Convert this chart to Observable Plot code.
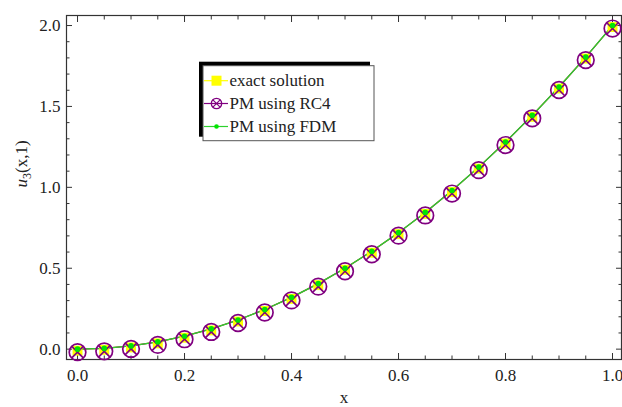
<!DOCTYPE html>
<html>
<head>
<meta charset="utf-8">
<script src="https://cdn.jsdelivr.net/npm/d3@7"></script>
<script src="https://cdn.jsdelivr.net/npm/@observablehq/plot@0.6"></script>
<style>
  body { margin: 0; background: #fff; }
  #wrap { position: relative; width: 622px; height: 407px; overflow: hidden; }
  #legend { position: absolute; left: 0; top: 0; pointer-events: none; }
  #wrap svg, #wrap svg text { font-family: "Liberation Serif", "Times New Roman", Times, "DejaVu Serif", serif !important; }
</style>
</head>
<body>
<div id="wrap"></div>
<script>
// ---- data ----
const xValues = [0.00, 0.05, 0.10, 0.15, 0.20, 0.25, 0.30, 0.35, 0.40, 0.45, 0.50,
                 0.55, 0.60, 0.65, 0.70, 0.75, 0.80, 0.85, 0.90, 0.95, 1.00];
const exactSolution = [0.000, 0.005, 0.020, 0.045, 0.080, 0.125, 0.180, 0.245, 0.320, 0.405, 0.500,
                       0.605, 0.720, 0.845, 0.980, 1.125, 1.280, 1.445, 1.620, 1.805, 2.000];
const rc4Values = [0.000, 0.005, 0.020, 0.045, 0.080, 0.125, 0.180, 0.245, 0.320, 0.405, 0.500,
                   0.605, 0.720, 0.845, 0.980, 1.125, 1.280, 1.445, 1.620, 1.805, 2.000];
const fdmValues = [0.000, 0.005, 0.020, 0.045, 0.080, 0.125, 0.180, 0.245, 0.320, 0.405, 0.500,
                   0.605, 0.720, 0.845, 0.980, 1.125, 1.280, 1.445, 1.620, 1.805, 2.000];
const xMajorTicks = [0, 0.2, 0.4, 0.6, 0.8, 1.0];
const xMinorTicks = [0.05, 0.1, 0.15, 0.25, 0.3, 0.35, 0.45, 0.5, 0.55, 0.65, 0.7, 0.75, 0.85, 0.9, 0.95];
const yMajorTicks = [0, 0.5, 1.0, 1.5, 2.0];
const yMinorTicks = [0.1, 0.2, 0.3, 0.4, 0.6, 0.7, 0.8, 0.9, 1.1, 1.2, 1.3, 1.4, 1.6, 1.7, 1.8, 1.9];
const legendLabels = ["exact solution", "PM using RC4", "PM using FDM"];
const xTitle = "x";
const yTitle = "u3(x,1)";

// ---- styles ----
const FONT = '"Liberation Serif", "Times New Roman", Times, "DejaVu Serif", serif';
const YELLOW = "#ffff00", PURPLE = "#800080", GREEN = "#00e600", LINEGREEN = "#2ed12e";
const AX = "#333";

const rows = xValues.map((x, i) => ({x, exact: exactSolution[i], rc4: rc4Values[i], fdm: fdmValues[i]}));

const plot = Plot.plot({
  width: 622,
  height: 407,
  marginLeft: 66,
  marginRight: 1,
  marginTop: 15,
  marginBottom: 48,
  style: {fontFamily: FONT, fontSize: "17px", color: "#222", background: "white"},
  x: {domain: [-0.0206, 1.0168], label: null},
  y: {domain: [-0.064, 2.062], label: null},
  marks: [
    Plot.axisX({anchor: "bottom", ticks: xMajorTicks, tickSize: -6, tickPadding: 15, tickFormat: d3.format(".1f"), stroke: AX, label: null}),
    Plot.axisX({anchor: "bottom", ticks: xMinorTicks, tickSize: -3.5, tickFormat: () => "", stroke: AX, label: null}),
    Plot.axisX({anchor: "top", ticks: xMajorTicks, tickSize: -6, tickFormat: () => "", stroke: AX, label: null}),
    Plot.axisX({anchor: "top", ticks: xMinorTicks, tickSize: -3.5, tickFormat: () => "", stroke: AX, label: null}),
    Plot.axisY({anchor: "left", ticks: yMajorTicks, tickSize: -6, tickPadding: 12, tickFormat: d3.format(".1f"), stroke: AX, label: null}),
    Plot.axisY({anchor: "left", ticks: yMinorTicks, tickSize: -3.5, tickFormat: () => "", stroke: AX, label: null}),
    Plot.axisY({anchor: "right", ticks: yMajorTicks, tickSize: -6, tickFormat: () => "", stroke: AX, label: null}),
    Plot.axisY({anchor: "right", ticks: yMinorTicks, tickSize: -3.5, tickFormat: () => "", stroke: AX, label: null}),
    Plot.frame({stroke: AX, strokeWidth: 1.2}),
    Plot.line(rows, {x: "x", y: "exact", stroke: YELLOW, strokeWidth: 1.2}),
    Plot.line(rows, {x: "x", y: "rc4", stroke: PURPLE, strokeWidth: 1.2}),
    Plot.line(rows, {x: "x", y: "fdm", stroke: LINEGREEN, strokeWidth: 1.3}),
    Plot.dot(rows, {x: "x", y: "exact", symbol: "square", r: 5.6, fill: YELLOW, stroke: "none", dy: 1.5}),
    Plot.dot(rows, {x: "x", y: "rc4", symbol: "circle", r: 8.3, fill: "none", stroke: PURPLE, strokeWidth: 1.7, dy: 3}),
    Plot.dot(rows, {x: "x", y: "rc4", symbol: "times", r: 5.5, fill: "none", stroke: PURPLE, strokeWidth: 1.6, dy: 3}),
    Plot.dot(rows, {x: "x", y: "fdm", symbol: "circle", r: 2.8, fill: GREEN, stroke: "none"}),
    Plot.text([xTitle], {text: d => d, frameAnchor: "bottom", dy: 43, fontSize: 17, fill: "#222"}),
    Plot.text([yTitle], {text: d => d, frameAnchor: "left", dx: -45, rotate: -90, fontSize: 17, fill: "#222"})
  ]
});

document.getElementById("wrap").appendChild(plot);

d3.select(plot).selectAll("text").filter(function () { return this.textContent === yTitle; })
  .each(function () {
    const t = d3.select(this);
    t.text(null);
    t.append("tspan").attr("font-style", "italic").text("u");
    t.append("tspan").attr("font-size", 12).attr("dy", "0.3em").text("3");
    t.append("tspan").attr("dy", "-0.21em").text("(x,1)");
  });

// ---- legend (overlay) ----
const lg = d3.select("#wrap").append("svg").attr("id", "legend").attr("width", 622).attr("height", 407)
  .style("font-family", FONT).style("font-size", "17px");
const bx = 203, by = 65.7, bw = 171, bh = 75;
lg.append("rect").attr("x", bx - 4).attr("y", by - 4).attr("width", bw).attr("height", bh).attr("fill", "#000");
lg.append("rect").attr("x", bx).attr("y", by).attr("width", bw).attr("height", bh)
  .attr("fill", "#fff").attr("stroke", "#555").attr("stroke-width", 1);
const rowY = [80.7, 103.5, 126.5];
const lineColors = [YELLOW, PURPLE, LINEGREEN];
legendLabels.forEach((lab, i) => {
  const y = rowY[i], cx = 216.5;
  lg.append("line").attr("x1", bx + 1).attr("x2", 228).attr("y1", y).attr("y2", y)
    .attr("stroke", lineColors[i]).attr("stroke-width", 1.2);
  if (i === 0) {
    lg.append("rect").attr("x", cx - 5).attr("y", y - 5).attr("width", 10).attr("height", 10).attr("fill", YELLOW);
  } else if (i === 1) {
    lg.append("circle").attr("cx", cx).attr("cy", y).attr("r", 5.2).attr("fill", "none").attr("stroke", PURPLE).attr("stroke-width", 1.3);
    lg.append("path").attr("d", `M${cx-3.6},${y-3.6}L${cx+3.6},${y+3.6}M${cx-3.6},${y+3.6}L${cx+3.6},${y-3.6}`)
      .attr("stroke", PURPLE).attr("stroke-width", 1.2);
  } else {
    lg.append("circle").attr("cx", cx).attr("cy", y).attr("r", 2.3).attr("fill", GREEN);
  }
  lg.append("text").attr("x", 229.5).attr("y", y).attr("dy", "0.32em").attr("fill", "#222").text(lab);
});
</script>
</body>
</html>
